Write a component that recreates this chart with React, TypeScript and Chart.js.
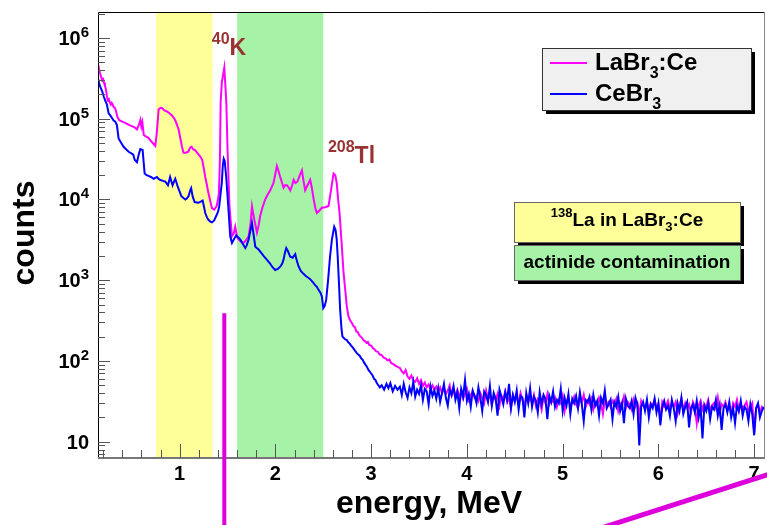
import React, { useEffect, useRef } from 'react';
import { Chart, registerables } from 'chart.js';
Chart.register(...registerables);

const FONT = '"Liberation Sans", Arial, Helvetica, sans-serif';

// ---- DATA ----
// LaBr3:Ce spectrum, structured low-energy part: [energy MeV, counts]
const labrPeakRegion: [number, number][] = [
  [0.15, 460000], [0.16, 400000], [0.17, 360000], [0.18, 330000], [0.19, 300000], [0.20, 310000], [0.21, 280000],
  [0.22, 255000], [0.23, 230000], [0.24, 190000], [0.25, 170000], [0.26, 175000], [0.27, 160000], [0.28, 150000],
  [0.29, 157000], [0.30, 150000], [0.31, 140000], [0.32, 138000], [0.33, 130000], [0.34, 118000], [0.35, 105000],
  [0.37, 96000], [0.40, 92000], [0.43, 89000], [0.47, 84000], [0.50, 81000], [0.53, 78000], [0.555, 74000],
  [0.575, 85000], [0.59, 97000], [0.60, 80000], [0.61, 90000], [0.625, 63000], [0.65, 60000], [0.675, 58000],
  [0.70, 53000], [0.725, 49000], [0.745, 46000], [0.76, 65000], [0.78, 130000], [0.80, 137000], [0.815, 136000],
  [0.84, 127000], [0.867, 123000], [0.89, 118000], [0.92, 110000], [0.94, 102000], [0.955, 95000], [0.97, 85000],
  [0.99, 73000], [1.01, 55000], [1.024, 45000], [1.04, 38000], [1.065, 38000], [1.09, 39000], [1.11, 44000],
  [1.125, 45000], [1.14, 42000], [1.16, 41000], [1.19, 37000], [1.215, 34000], [1.235, 31000], [1.25, 25000],
  [1.267, 19000], [1.285, 15000], [1.30, 12000], [1.32, 9500], [1.337, 7800], [1.36, 7500], [1.385, 8200],
  [1.40, 10000], [1.41, 12000], [1.42, 30000], [1.428, 160000], [1.44, 280000], [1.455, 360000], [1.466, 430000],
  [1.478, 250000], [1.488, 150000], [1.50, 41000], [1.52, 8200], [1.546, 3500], [1.565, 3800], [1.58, 4600],
  [1.60, 3400], [1.615, 3200], [1.64, 3000], [1.667, 2900], [1.69, 3100], [1.72, 3500], [1.74, 5000],
  [1.755, 8200], [1.765, 7000], [1.78, 5600], [1.807, 3900], [1.825, 4800], [1.84, 6200], [1.865, 8000],
  [1.893, 10000], [1.92, 11500], [1.946, 13000], [1.98, 16000], [2.00, 21000], [2.015, 26000], [2.03, 23000],
  [2.05, 19000], [2.07, 16000], [2.085, 14000], [2.10, 15000], [2.12, 15000], [2.14, 14000], [2.155, 13000],
  [2.175, 15000], [2.19, 17500], [2.21, 16000], [2.23, 16600], [2.255, 20000], [2.277, 23000], [2.29, 18000],
  [2.31, 13000], [2.335, 15000], [2.363, 17500], [2.38, 14000], [2.40, 10000], [2.42, 7500], [2.433, 6800],
  [2.46, 7300], [2.485, 7900], [2.52, 8000], [2.555, 8300], [2.58, 13000], [2.607, 21000], [2.625, 20000],
  [2.64, 16000], [2.655, 10000], [2.67, 6800], [2.694, 2600], [2.71, 1300], [2.729, 760], [2.745, 480],
  [2.763, 355], [2.78, 320], [2.80, 293], [2.815, 270], [2.83, 262], [2.845, 232], [2.86, 228], [2.875, 208],
  [2.89, 200], [2.905, 192], [2.92, 180], [2.935, 176], [2.95, 168], [2.965, 172], [2.98, 158], [3.00, 155],
  [3.02, 143], [3.035, 140], [3.05, 132], [3.07, 130], [3.09, 120], [3.11, 118], [3.13, 110], [3.15, 108],
  [3.17, 102], [3.19, 104], [3.21, 94], [3.23, 92], [3.25, 88], [3.27, 85],
];

// CeBr3 spectrum, structured low-energy part: [energy MeV, counts]
const cebrPeakRegion: [number, number][] = [
  [0.15, 310000], [0.16, 270000], [0.17, 250000], [0.18, 235000], [0.19, 220000], [0.206, 190000], [0.225, 165000],
  [0.24, 150000], [0.258, 117000], [0.275, 110000], [0.293, 102000], [0.31, 95000], [0.328, 92000], [0.345, 83000],
  [0.362, 57000], [0.39, 50000], [0.414, 45000], [0.44, 42000], [0.467, 39000], [0.50, 37000], [0.515, 36000],
  [0.53, 31000], [0.554, 29000], [0.57, 35000], [0.589, 42000], [0.613, 41000], [0.625, 28000], [0.634, 21000],
  [0.655, 20000], [0.675, 19600], [0.70, 19000], [0.728, 18000], [0.745, 18500], [0.763, 19000], [0.78, 18000],
  [0.80, 17400], [0.825, 17000], [0.85, 16600], [0.878, 15000], [0.90, 19000], [0.912, 17000], [0.926, 15000],
  [0.94, 16500], [0.954, 18000], [0.968, 16000], [0.98, 14400], [1.00, 12500], [1.017, 11000], [1.04, 10400],
  [1.058, 10000], [1.075, 10300], [1.093, 11000], [1.11, 13000], [1.12, 13800], [1.135, 11000], [1.156, 9300],
  [1.18, 9200], [1.197, 9100], [1.22, 9400], [1.24, 9700], [1.255, 8000], [1.267, 6800], [1.285, 6000],
  [1.30, 5600], [1.32, 5300], [1.337, 5200], [1.36, 5500], [1.38, 6200], [1.40, 7000], [1.413, 8200],
  [1.428, 12000], [1.44, 16000], [1.45, 26000], [1.46, 32000], [1.47, 30000], [1.486, 19000], [1.50, 11000],
  [1.51, 7400], [1.528, 3500], [1.546, 2900], [1.565, 3200], [1.59, 3600], [1.61, 3400], [1.632, 3200],
  [1.66, 2800], [1.685, 2500], [1.70, 2700], [1.72, 3200], [1.74, 4200], [1.755, 5100], [1.77, 3800],
  [1.79, 2600], [1.824, 2400], [1.85, 2200], [1.876, 2000], [1.91, 1800], [1.946, 1600], [1.97, 1450],
  [1.998, 1340], [2.025, 1380], [2.05, 1470], [2.07, 1600], [2.085, 1800], [2.10, 2200], [2.113, 2500],
  [2.13, 2300], [2.155, 1950], [2.18, 1900], [2.207, 2100], [2.22, 1800], [2.24, 1500], [2.265, 1300],
  [2.293, 1200], [2.32, 1120], [2.34, 1080], [2.363, 1030], [2.39, 950], [2.41, 880], [2.433, 830],
  [2.45, 760], [2.47, 700], [2.485, 630], [2.50, 450], [2.515, 480], [2.53, 570], [2.55, 1000], [2.57, 1950],
  [2.59, 3200], [2.614, 4600], [2.628, 4200], [2.64, 3200], [2.65, 2000], [2.659, 1200], [2.676, 430],
  [2.69, 250], [2.70, 200], [2.715, 192], [2.73, 185], [2.746, 182], [2.76, 170], [2.775, 165], [2.79, 155],
  [2.805, 148], [2.82, 140], [2.835, 132], [2.85, 125], [2.865, 120], [2.88, 116], [2.895, 108], [2.91, 104],
  [2.925, 96], [2.94, 90], [2.955, 85], [2.97, 78], [2.985, 74], [3.00, 70], [3.015, 66], [3.03, 60],
  [3.045, 58], [3.06, 53], [3.075, 50], [3.09, 47], [3.11, 50], [3.135, 44], [3.16, 52], [3.18, 46],
  [3.20, 53], [3.225, 42], [3.25, 49], [3.275, 44],
];

// High-energy tail: bins of 0.02 MeV starting at 3.30 MeV
const tailStartEnergy = 3.3;
const tailBinWidth = 0.02;
const labrTail = [
  82, 74, 70, 77, 64, 60, 66, 57, 55, 61,
  52, 58, 49, 54, 47, 51, 45, 50, 44, 48,
  42, 47, 40, 45, 39, 43, 50, 37, 42, 38,
  44, 36, 41, 34, 39, 45, 33, 38, 42, 35,
  37, 32, 40, 35, 30, 43, 34, 38, 29, 36,
  33, 39, 28, 37, 34, 42, 31, 35, 26, 38,
  32, 36, 29, 40, 33, 27, 37, 31, 35, 30,
  38, 28, 34, 32, 25, 36, 30, 39, 29, 33,
  31, 35, 27, 33, 30, 37, 24, 32, 34, 28,
  30, 36, 29, 26, 33, 31, 38, 27, 32, 29,
  34, 25, 31, 28, 35, 30, 22, 33, 29, 31,
  27, 32, 29, 34, 24, 30, 28, 36, 26, 31,
  29, 25, 33, 27, 30, 21, 32, 28, 26, 31,
  24, 30, 28, 33, 26, 29, 19, 31, 27, 28,
  32, 25, 29, 27, 31, 22, 28, 34, 24, 30,
  26, 29, 23, 31, 27, 17, 28, 32, 25, 29,
  27, 33, 24, 28, 30, 26, 35, 23, 29, 27,
  31, 25, 28, 22, 30, 27, 33, 24, 29, 26,
  28, 31, 24, 27, 30, 13, 26, 29, 23, 27,
  25,
];
const cebrTail = [
  48, 38, 52, 41, 35, 47, 40, 55, 36, 44,
  39, 50, 33, 45, 42, 29, 48, 37, 43, 34,
  46, 31, 40, 52, 35, 28, 44, 38, 49, 33,
  41, 26, 45, 36, 58, 32, 39, 27, 43, 37,
  30, 47, 35, 24, 42, 38, 31, 49, 28, 40,
  34, 21, 44, 36, 29, 41, 33, 52, 26, 38,
  31, 43, 25, 37, 35, 20, 40, 30, 46, 27,
  36, 32, 23, 41, 29, 38, 34, 19, 37, 31,
  42, 27, 33, 30, 45, 24, 35, 28, 39, 22,
  34, 30, 37, 26, 41, 29, 18, 33, 31, 36,
  25, 38, 28, 32, 21, 35, 30, 43, 26, 29,
  33, 19, 31, 27, 36, 24, 30, 17, 34, 28,
  26, 32, 22, 35, 29, 9, 27, 31, 24, 33,
  20, 29, 26, 34, 23, 30, 16, 27, 32, 25,
  28, 21, 33, 26, 18, 30, 24, 35, 22, 27,
  31, 15, 26, 29, 23, 32, 20, 27, 11, 28,
  24, 30, 19, 27, 25, 33, 21, 28, 14, 26,
  29, 23, 31, 20, 26, 17, 28, 24, 32, 21,
  27, 25, 18, 29, 22, 12, 26, 30, 20, 24,
  27,
];

const seriesNames = ['LaBr3:Ce', 'CeBr3'];
const xTickLabels = ['1', '2', '3', '4', '5', '6', '7'];
const xTickValues = [1, 2, 3, 4, 5, 6, 7];
const yTickValues = [10, 100, 1000, 10000, 100000, 1000000];
const yTickExponents = ['', '2', '3', '4', '5', '6'];

// shaded energy bands: 138La region and actinide region
const bandStart = [0.753, 1.60];
const bandEnd = [1.343, 2.50];

// peak labels anchored in data coordinates (left edge, baseline)
const peakLabelSup = ['40', '208'];
const peakLabelMain = ['K', 'Tl'];
const peakLabelEnergy = [1.335, 2.548];
const peakLabelCounts = [6.2e5, 2.85e4];

// stray magenta marker strokes (data coordinates)
const markerVertical = { energy: 1.466, fromCounts: 390, toCounts: 0.5 };
const markerDiagonal = { e0: 5.33, c0: 0.8, e1: 7.25, c1: 4.3 };

const MAGENTA = '#ff00ff';
const BLUE = '#0000ff';
const YELLOW_FILL = '#ffff9a';
const GREEN_FILL = '#a6f2a6';

type Seg = [string, number, number];
function drawRich(ctx: CanvasRenderingContext2D, segs: Seg[], x: number, y: number, align: string, color: string) {
  let w = 0;
  segs.forEach(s => { ctx.font = `bold ${s[1]}px ${FONT}`; w += ctx.measureText(s[0]).width; });
  let cx = align === 'right' ? x - w : align === 'center' ? x - w / 2 : x;
  ctx.textAlign = 'left';
  ctx.textBaseline = 'alphabetic';
  ctx.fillStyle = color;
  segs.forEach(s => {
    ctx.font = `bold ${s[1]}px ${FONT}`;
    ctx.fillText(s[0], cx, y + s[2]);
    cx += ctx.measureText(s[0]).width;
  });
}

const bandsPlugin = {
  id: 'bands',
  beforeDatasetsDraw(chart: any) {
    const { ctx, chartArea: a, scales } = chart;
    const cols = [YELLOW_FILL, GREEN_FILL];
    ctx.save();
    bandStart.forEach((s, i) => {
      const x0 = scales.x.getPixelForValue(s);
      const x1 = scales.x.getPixelForValue(bandEnd[i]);
      ctx.fillStyle = cols[i];
      ctx.fillRect(x0, a.top, x1 - x0, a.bottom - a.top);
    });
    ctx.restore();
  },
};

const decorPlugin = {
  id: 'decor',
  afterDraw(chart: any) {
    const { ctx, chartArea: a, scales } = chart;
    const xs = scales.x, ys = scales.y;
    ctx.save();

    // frame
    ctx.lineWidth = 1;
    ctx.strokeStyle = '#000';
    ctx.beginPath();
    ctx.moveTo(a.left + 0.5, a.bottom);
    ctx.lineTo(a.left + 0.5, a.top + 0.5);
    ctx.lineTo(a.right, a.top + 0.5);
    ctx.stroke();
    ctx.strokeStyle = '#888';
    ctx.beginPath();
    ctx.moveTo(a.right - 0.5, a.top);
    ctx.lineTo(a.right - 0.5, a.bottom);
    ctx.stroke();
    ctx.lineWidth = 2;
    ctx.strokeStyle = '#777';
    ctx.beginPath();
    ctx.moveTo(a.left, a.bottom);
    ctx.lineTo(a.right, a.bottom);
    ctx.stroke();

    // x ticks
    ctx.lineWidth = 1;
    ctx.strokeStyle = '#555';
    for (let i = 1; i <= 35; i++) {
      const v = i * 0.2;
      const px = Math.round(xs.getPixelForValue(v)) + 0.5;
      const len = i % 5 === 0 ? 14 : 8;
      ctx.beginPath();
      ctx.moveTo(px, a.bottom);
      ctx.lineTo(px, a.bottom - len);
      ctx.stroke();
    }
    // y ticks
    for (let d = 0; d <= 6; d++) {
      for (let m = 1; m <= 9; m++) {
        const v = m * Math.pow(10, d);
        if (v < ys.min || v > ys.max) continue;
        const py = Math.round(ys.getPixelForValue(v)) + 0.5;
        const len = m === 1 ? 12 : 7;
        ctx.beginPath();
        ctx.moveTo(a.left, py);
        ctx.lineTo(a.left + len, py);
        ctx.stroke();
      }
    }

    // x tick labels
    ctx.fillStyle = '#000';
    ctx.font = `bold 20px ${FONT}`;
    ctx.textAlign = 'center';
    ctx.textBaseline = 'alphabetic';
    xTickValues.forEach((v, i) => {
      ctx.fillText(xTickLabels[i], xs.getPixelForValue(v), 480);
    });
    // y tick labels
    yTickValues.forEach((v, i) => {
      const py = ys.getPixelForValue(v);
      const segs: Seg[] = [['10', 20, 0]];
      if (yTickExponents[i]) segs.push([yTickExponents[i], 15, -8]);
      drawRich(ctx, segs, 89, py + 7, 'right', '#000');
    });

    // axis titles
    ctx.fillStyle = '#000';
    ctx.font = `bold 32px ${FONT}`;
    ctx.textAlign = 'center';
    ctx.fillText('energy, MeV', 429, 513);
    ctx.save();
    ctx.translate(34, 233);
    ctx.rotate(-Math.PI / 2);
    ctx.fillText('counts', 0, 0);
    ctx.restore();

    // legend
    const lx = 542, ly = 48, lw = 209, lh = 62;
    ctx.fillStyle = '#000';
    ctx.fillRect(lx + 4, ly + 4, lw, lh);
    ctx.fillStyle = '#f0f0f0';
    ctx.fillRect(lx, ly, lw, lh);
    ctx.lineWidth = 1;
    ctx.strokeStyle = '#333';
    ctx.strokeRect(lx + 0.5, ly + 0.5, lw, lh);
    ctx.lineWidth = 2;
    ctx.strokeStyle = MAGENTA;
    ctx.beginPath(); ctx.moveTo(550, 63); ctx.lineTo(587, 63); ctx.stroke();
    ctx.strokeStyle = BLUE;
    ctx.beginPath(); ctx.moveTo(550, 94); ctx.lineTo(587, 94); ctx.stroke();
    drawRich(ctx, [['LaBr', 24, 0], ['3', 16, 8], [':Ce', 24, 0]], 595, 70, 'left', '#000');
    drawRich(ctx, [['CeBr', 24, 0], ['3', 16, 8]], 595, 101, 'left', '#000');

    // band annotation boxes
    const bx = 514, bw = 226;
    const boxes = [
      { y: 202, h: 40, col: YELLOW_FILL },
      { y: 245, h: 35, col: GREEN_FILL },
    ];
    boxes.forEach(b => {
      ctx.fillStyle = '#000';
      ctx.fillRect(bx + 4, b.y + 4, bw, b.h);
      ctx.fillStyle = b.col;
      ctx.fillRect(bx, b.y, bw, b.h);
      ctx.lineWidth = 1;
      ctx.strokeStyle = '#666';
      ctx.strokeRect(bx + 0.5, b.y + 0.5, bw, b.h);
    });
    drawRich(ctx, [['138', 13, -9], ['La in LaBr', 19, 0], ['3', 13, 5], [':Ce', 19, 0]], bx + bw / 2, 226, 'center', '#000');
    drawRich(ctx, [['actinide contamination', 19, 0]], bx + bw / 2, 268, 'center', '#000');

    // peak labels
    peakLabelMain.forEach((t, i) => {
      const px = xs.getPixelForValue(peakLabelEnergy[i]);
      const py = ys.getPixelForValue(peakLabelCounts[i]);
      drawRich(ctx, [[peakLabelSup[i], 16, -11], [t, 23, 0]], px, py, 'left', '#993333');
    });

    // stray magenta marker strokes
    ctx.strokeStyle = '#dd00dd';
    ctx.lineCap = 'butt';
    ctx.lineWidth = 4;
    const vx = xs.getPixelForValue(markerVertical.energy);
    ctx.beginPath();
    ctx.moveTo(vx, ys.getPixelForValue(markerVertical.fromCounts));
    ctx.lineTo(vx, ys.getPixelForValue(markerVertical.toCounts));
    ctx.stroke();
    ctx.lineWidth = 5;
    ctx.beginPath();
    ctx.moveTo(xs.getPixelForValue(markerDiagonal.e0), ys.getPixelForValue(markerDiagonal.c0));
    ctx.lineTo(xs.getPixelForValue(markerDiagonal.e1), ys.getPixelForValue(markerDiagonal.c1));
    ctx.stroke();

    ctx.restore();
  },
};

function buildSeries(region: [number, number][], tail: number[]) {
  const pts = region.map(([x, y]) => ({ x, y }));
  tail.forEach((y, i) => pts.push({ x: tailStartEnergy + i * tailBinWidth, y }));
  return pts;
}

export default function App() {
  const ref = useRef<HTMLCanvasElement | null>(null);
  useEffect(() => {
    const canvas = ref.current!;
    const chart = new Chart(canvas, {
      type: 'line',
      data: {
        datasets: [
          {
            label: seriesNames[1],
            data: buildSeries(cebrPeakRegion, cebrTail),
            borderColor: BLUE,
            borderWidth: 2,
            pointRadius: 0,
            tension: 0,
            fill: false,
          },
          {
            label: seriesNames[0],
            data: buildSeries(labrPeakRegion, labrTail),
            borderColor: MAGENTA,
            borderWidth: 2,
            pointRadius: 0,
            tension: 0,
            fill: false,
          },
        ],
      },
      options: {
        animation: false,
        responsive: false,
        devicePixelRatio: 1,
        layout: { padding: { top: 12, right: 2, left: 0, bottom: 0 } },
        plugins: { legend: { display: false }, tooltip: { enabled: false }, title: { display: false } },
        scales: {
          x: {
            type: 'linear',
            min: 0.147,
            max: 7.113,
            ticks: { display: false },
            grid: { display: false, drawTicks: false },
            border: { display: false },
            afterFit: (s: any) => { s.height = 67; },
          },
          y: {
            type: 'logarithmic',
            min: 6.28,
            max: 2.1e6,
            ticks: { display: false },
            grid: { display: false, drawTicks: false },
            border: { display: false },
            afterFit: (s: any) => { s.width = 98; },
          },
        },
      } as any,
      plugins: [bandsPlugin, decorPlugin],
    });
    return () => chart.destroy();
  }, []);
  return (
    <div style={{ position: 'fixed', left: 0, top: 0, width: 767, height: 525, background: '#fff' }}>
      <canvas ref={ref} width={767} height={525} style={{ width: 767, height: 525, display: 'block' }} />
    </div>
  );
}
